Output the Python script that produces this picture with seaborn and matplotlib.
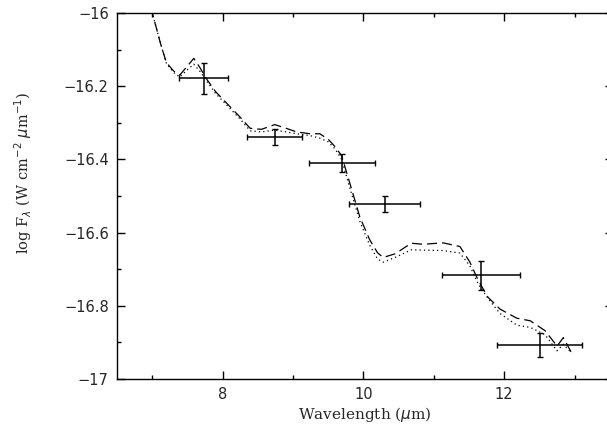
import matplotlib
matplotlib.use("Agg")
import matplotlib.pyplot as plt
from matplotlib.ticker import MultipleLocator, FuncFormatter
import seaborn as sns

# model curves
wave = [6.98, 7.05, 7.12, 7.2, 7.3, 7.39, 7.5, 7.59, 7.68, 7.77, 7.9, 8.1,
        8.25, 8.39, 8.55, 8.74, 8.9, 9.05, 9.24, 9.38, 9.5, 9.6, 9.69, 9.81,
        9.95, 10.09, 10.2, 10.28, 10.45, 10.68, 10.85, 11.13, 11.37, 11.51,
        11.63, 11.77, 11.94, 12.18, 12.37, 12.58, 12.75, 12.84, 12.96]
model_dashed = [-15.985, -16.035, -16.085, -16.135, -16.158, -16.17, -16.145,
                -16.124, -16.15, -16.18, -16.215, -16.255, -16.285, -16.315,
                -16.318, -16.305, -16.315, -16.325, -16.33, -16.33, -16.345,
                -16.366, -16.39, -16.467, -16.558, -16.62, -16.655, -16.668,
                -16.658, -16.629, -16.632, -16.628, -16.638, -16.68, -16.73,
                -16.777, -16.809, -16.834, -16.841, -16.868, -16.91, -16.887,
                -16.93]
model_dotted = [-15.985, -16.035, -16.085, -16.137, -16.162, -16.175, -16.155,
                -16.14, -16.16, -16.185, -16.22, -16.26, -16.29, -16.322,
                -16.325, -16.32, -16.325, -16.33, -16.335, -16.342, -16.352,
                -16.372, -16.40, -16.48, -16.57, -16.635, -16.672, -16.681,
                -16.668, -16.647, -16.648, -16.649, -16.656, -16.69, -16.74,
                -16.78, -16.821, -16.853, -16.859, -16.879, -16.923, -16.905,
                -16.93]

# photometry points
phot_x = [7.73, 8.74, 9.69, 10.30, 11.67, 12.51]
phot_y = [-16.179, -16.339, -16.409, -16.522, -16.717, -16.906]
phot_xlo = [0.35, 0.39, 0.46, 0.51, 0.56, 0.61]
phot_xhi = [0.35, 0.39, 0.48, 0.50, 0.55, 0.60]
phot_yerr = [0.042, 0.022, 0.025, 0.021, 0.039, 0.033]

sns.set_style("ticks")
plt.rcParams["font.family"] = ["DejaVu Sans"]

fig = plt.figure(figsize=(6.07, 4.32), dpi=100)
ax = fig.add_axes([0.1928, 0.1227, 0.8165, 0.8473])

sns.lineplot(x=wave, y=model_dashed, ax=ax, color="k", lw=0.9,
             linestyle=(0, (8, 4)), estimator=None, sort=False)
sns.lineplot(x=wave, y=model_dotted, ax=ax, color="k", lw=0.9,
             linestyle=(0, (1, 2.5)), estimator=None, sort=False)
ax.errorbar(phot_x, phot_y, xerr=[phot_xlo, phot_xhi], yerr=phot_yerr,
            fmt="none", ecolor="k", elinewidth=1.1, capsize=2.5, capthick=1)

ax.set_xlim(6.5, 13.54)
ax.set_ylim(-17.0, -16.0)
ax.xaxis.set_major_locator(MultipleLocator(2))
ax.xaxis.set_minor_locator(MultipleLocator(1))
ax.yaxis.set_major_locator(MultipleLocator(0.2))
ax.yaxis.set_minor_locator(MultipleLocator(0.1))
ax.yaxis.set_major_formatter(FuncFormatter(lambda v, p: f"{v:g}".replace("-", "\u2212")))

ax.tick_params(which="both", direction="in", top=True, right=True,
               labelsize=10.5, width=1, color="k")
ax.tick_params(which="major", length=6, pad=6)
ax.tick_params(which="minor", length=3)
for s in ax.spines.values():
    s.set_linewidth(1)
    s.set_color("k")

ax.set_xlabel(r"Wavelength ($\mu$m)", family="DejaVu Serif", fontsize=11, labelpad=2)
ax.set_ylabel(r"log F$_\lambda$ (W cm$^{-2}$ $\mu$m$^{-1}$)", family="DejaVu Serif",
              fontsize=10.5)
ax.yaxis.set_label_coords(-0.168, 0.563)

fig.savefig("out.png", dpi=100)
